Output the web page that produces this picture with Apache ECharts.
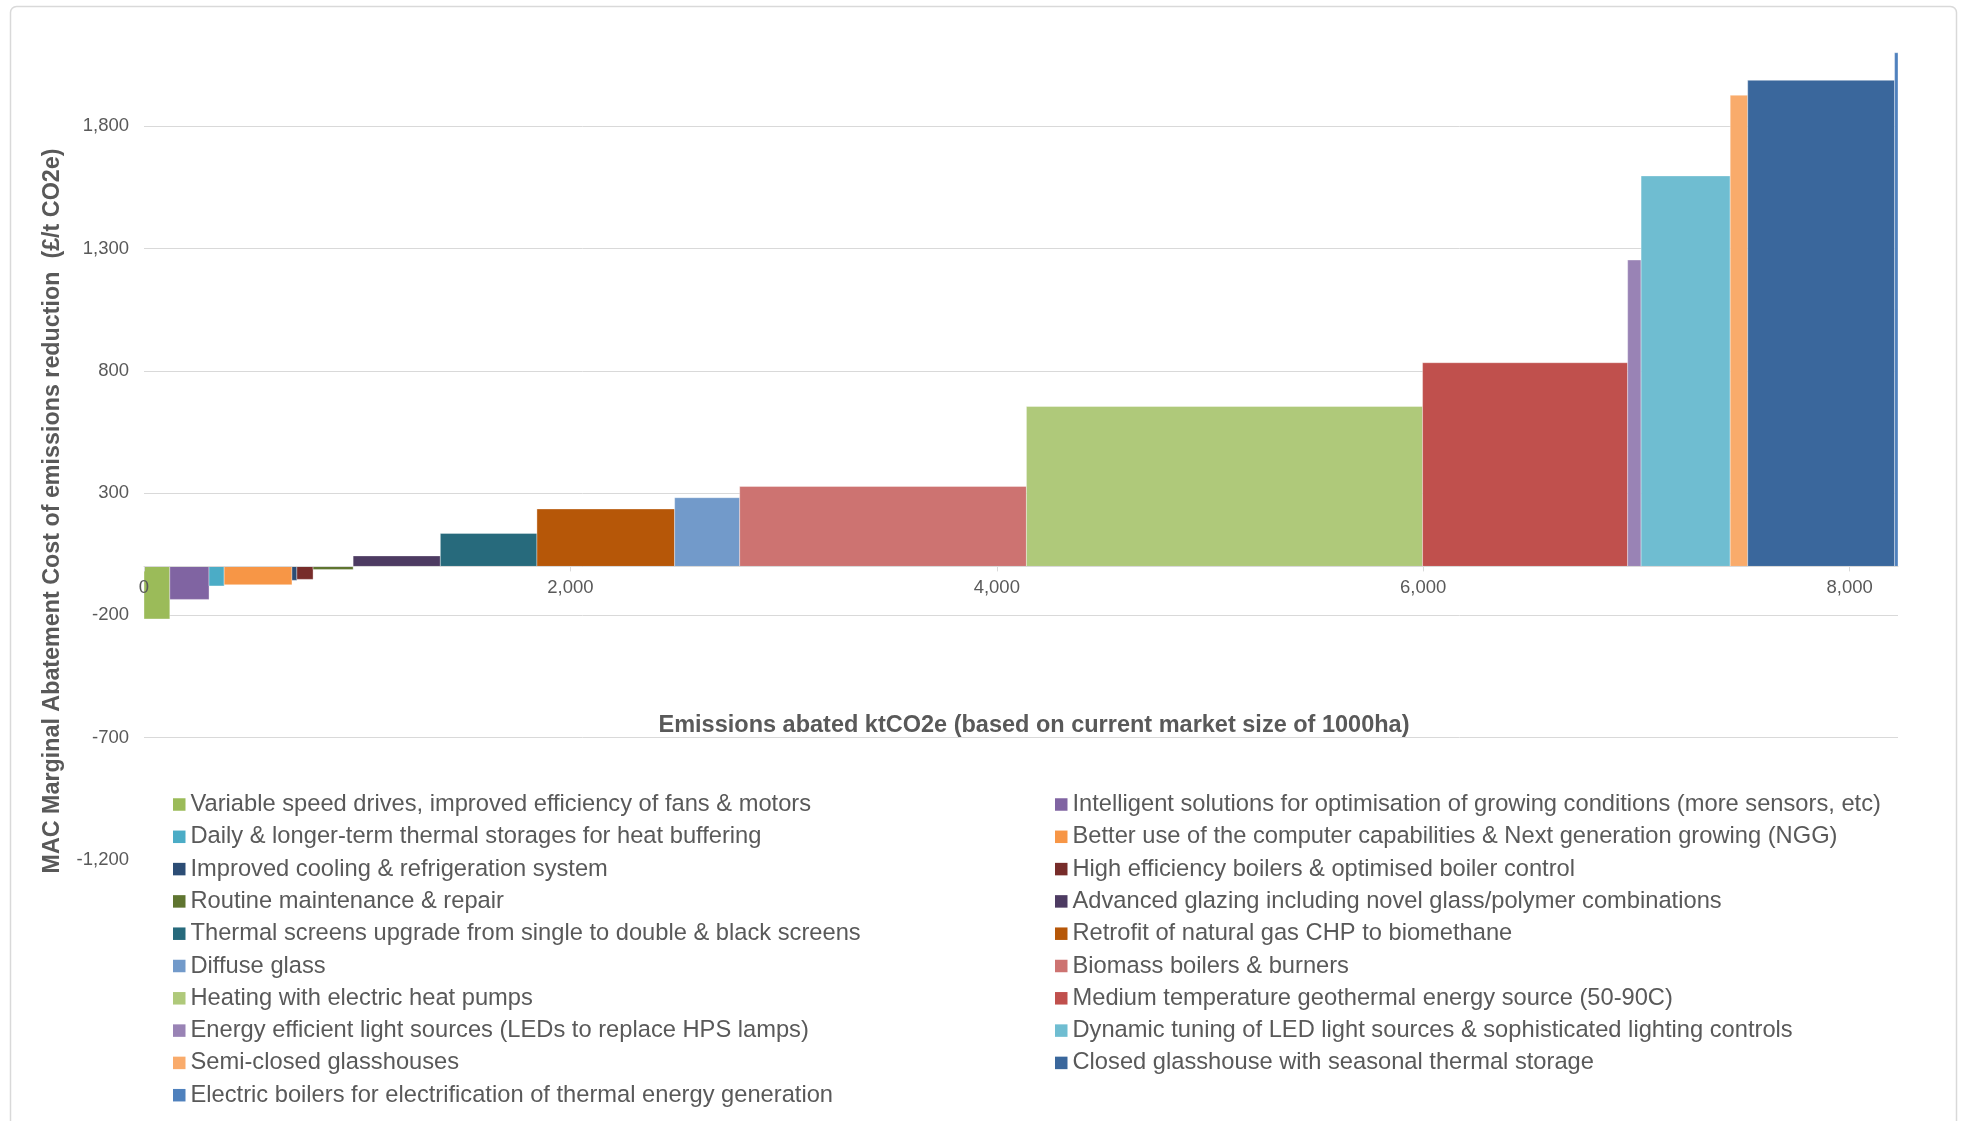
<!DOCTYPE html>
<html>
<head>
<meta charset="utf-8">
<title>Marginal abatement cost curve – glasshouse measures</title>
<script src="https://cdn.jsdelivr.net/npm/echarts@6/dist/echarts.min.js"></script>
<style>
  html, body { margin: 0; padding: 0; background: #ffffff; }
  #chart { width: 1966px; height: 1121px; }
</style>
</head>
<body>
<div id="chart"></div>
<script>
// Abatement measures, ordered by marginal abatement cost
const measures = [
  'Variable speed drives, improved efficiency of fans & motors',
  'Intelligent solutions for optimisation of growing conditions (more sensors, etc)',
  'Daily & longer-term thermal storages for heat buffering',
  'Better use of the computer capabilities & Next generation growing (NGG)',
  'Improved cooling & refrigeration system',
  'High efficiency boilers & optimised boiler control',
  'Routine maintenance & repair',
  'Advanced glazing including novel glass/polymer combinations',
  'Thermal screens upgrade from single to double & black screens',
  'Retrofit of natural gas CHP to biomethane',
  'Diffuse glass',
  'Biomass boilers & burners',
  'Heating with electric heat pumps',
  'Medium temperature geothermal energy source (50-90C)',
  'Energy efficient light sources (LEDs to replace HPS lamps)',
  'Dynamic tuning of LED light sources & sophisticated lighting controls',
  'Semi-closed glasshouses',
  'Closed glasshouse with seasonal thermal storage',
  'Electric boilers for electrification of thermal energy generation'
];

// Emissions abated by each measure (ktCO2e) – bar widths
const abated = [121, 184, 71, 318, 23, 76, 188, 409, 453, 646, 305, 1345, 1858, 962, 63, 418, 82, 689, 16];

// Marginal abatement cost (£/t CO2e) – bar heights
const cost = [-215, -135, -80, -75, -57, -53, -13, 43, 135, 235, 281, 327, 654, 833, 1253, 1597, 1927, 1988, 2101];

const colors = [
  '#9BBB59', '#8064A2', '#4BACC6', '#F79646', '#2C4D75', '#772C2A', '#5F7530',
  '#4D3B62', '#276A7C', '#B65708', '#729ACA', '#CD7371', '#AFC97A', '#C0504D',
  '#9983B5', '#6FBDD1', '#F9AB6B', '#3A679C', '#4F81BD'
];

// Axis settings
const yTicks = { min: -1200, max: 2200, interval: 500 };
const xTicks = { min: 0, interval: 2000 };

const FONT = '"Liberation Sans", Arial, Helvetica, sans-serif';
const TEXT = '#595959';
const LINE = '#D9D9D9';

// Plot area
const gridBox = { left: 144, right: 68, top: 28.5, bottom: 261.2 };
const gridHeight = 1121 - gridBox.top - gridBox.bottom;
// Lift the horizontal axis from the bottom of the plot up to the zero line
const zeroOffset = -gridHeight * (0 - yTicks.min) / (yTicks.max - yTicks.min);

// Cumulative start/end of each bar along the x axis
let cursor = 0;
const spans = abated.map(w => { const s = cursor; cursor += w; return [s, cursor]; });
const totalAbated = cursor;

function renderBar(params, api) {
  const p0 = api.coord([api.value(0), 0]);
  const p1 = api.coord([api.value(1), api.value(2)]);
  return {
    type: 'rect',
    shape: {
      x: p0[0],
      y: Math.min(p0[1], p1[1]),
      width: p1[0] - p0[0],
      height: Math.abs(p1[1] - p0[1])
    },
    style: {
      fill: api.visual('color'),
      stroke: 'rgba(255,255,255,0.35)',
      lineWidth: 1
    }
  };
}

const series = measures.map((name, i) => ({
  name: name,
  type: 'custom',
  renderItem: renderBar,
  itemStyle: { color: colors[i] },
  encode: { x: [0, 1], y: 2 },
  data: [[spans[i][0], spans[i][1], cost[i]]],
  z: 2
}));

const fmt = v => Math.round(v).toLocaleString('en-US');

const legendBase = {
  orient: 'vertical',
  top: 792.5,
  padding: 0,
  itemWidth: 12.5,
  itemHeight: 12.5,
  itemGap: 8.3,
  icon: 'rect',
  selectedMode: false,
  textStyle: { fontFamily: FONT, fontSize: 23.7, color: TEXT, lineHeight: 24 }
};

const option = {
  animation: false,
  backgroundColor: '#ffffff',
  textStyle: { fontFamily: FONT },
  grid: Object.assign({ containLabel: false }, gridBox),
  xAxis: {
    type: 'value',
    min: xTicks.min,
    max: totalAbated,
    interval: xTicks.interval,
    offset: zeroOffset,
    z: 3,
    axisLine: { show: true, onZero: false, lineStyle: { color: LINE, width: 1 } },
    axisTick: { show: true, inside: false, length: 5, lineStyle: { color: LINE } },
    splitLine: { show: false },
    axisLabel: {
      showMaxLabel: false,
      margin: 12,
      fontFamily: FONT,
      fontSize: 18.5,
      color: TEXT,
      formatter: fmt
    }
  },
  yAxis: {
    type: 'value',
    min: yTicks.min,
    max: yTicks.max,
    interval: yTicks.interval,
    axisLine: { show: false },
    axisTick: { show: false },
    splitLine: { show: true, showMinLine: false, showMaxLine: false, lineStyle: { color: LINE, width: 1 } },
    axisLabel: {
      showMaxLabel: false,
      margin: 15,
      fontFamily: FONT,
      fontSize: 18.5,
      color: TEXT,
      formatter: fmt
    }
  },
  legend: [
    Object.assign({}, legendBase, { left: 173, data: measures.filter((_, i) => i % 2 === 0) }),
    Object.assign({}, legendBase, { left: 1055, data: measures.filter((_, i) => i % 2 === 1) })
  ],
  graphic: [
    {
      type: 'rect',
      silent: true,
      z: -1,
      shape: { x: 10.5, y: 6.5, width: 1946, height: 1140, r: 6 },
      style: { fill: null, stroke: '#D9D9D9', lineWidth: 1.5 }
    },
    {
      type: 'text',
      x: 1034,
      y: 725.5,
      style: {
        text: 'Emissions abated ktCO2e (based on current market size of 1000ha)',
        fontFamily: FONT,
        fontSize: 23.5,
        fontWeight: 'bold',
        fill: TEXT,
        align: 'center',
        verticalAlign: 'middle'
      }
    },
    {
      type: 'text',
      x: 53,
      y: 511,
      rotation: Math.PI / 2,
      style: {
        text: 'MAC Marginal Abatement Cost of emissions reduction  (£/t CO2e)',
        fontFamily: FONT,
        fontSize: 23.3,
        fontWeight: 'bold',
        fill: TEXT,
        align: 'center',
        verticalAlign: 'middle'
      }
    }
  ],
  series: series
};

const chart = echarts.init(document.getElementById('chart'), null, { renderer: 'canvas' });
chart.setOption(option);
</script>
</body>
</html>
